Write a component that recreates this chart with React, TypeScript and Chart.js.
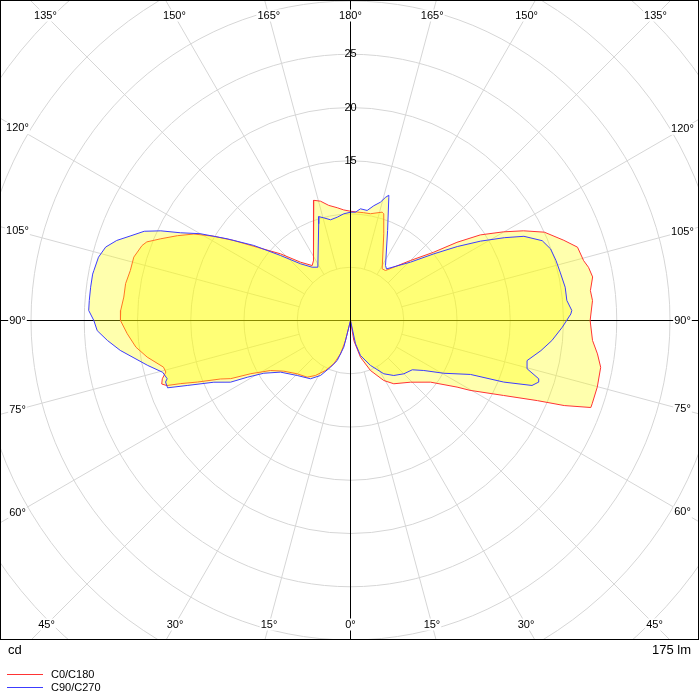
import React, { useEffect, useRef } from "react";
import { Chart, registerables } from "chart.js";

Chart.register(...registerables);

// ---- data (gamma angle in degrees, luminous intensity in cd) ----
const seriesNames = ["C0/C180", "C90/C270"];
const seriesColors = ["#ff3434", "#3c3cff"];
const fillColor = "rgba(255,255,0,0.32)";

// C0 half (right side)
const c0Gamma = [0, 9.4, 15.2, 21.8, 29.0, 34.4, 44.2, 52.4, 58.0, 59.7, 63.9, 66.8, 68.3, 70.1, 71.0, 74.9, 79.4, 82.3, 85.3, 90, 94.7, 97.1, 100.2, 102.6, 104.4, 107.9, 110.6, 114.5, 117.4, 120.1, 123.4, 126.3, 129.4, 135, 145, 148.5, 159.0, 162.7, 163.7, 169.4, 173.0, 176.5, 180];
const c0Cd = [0, 1.9, 3.57, 5.06, 6.44, 7.2, 8.08, 9.49, 11.8, 13.0, 16.0, 19.1, 21.6, 24.0, 24.0, 24.0, 23.9, 23.4, 22.8, 22.5, 22.8, 22.7, 23.1, 22.9, 22.6, 22.4, 21.4, 20.0, 18.3, 16.6, 14.6, 12.4, 10.1, 7.97, 5.73, 5.69, 8.72, 10.5, 10.6, 10.2, 10.2, 10.2, 10.26];
// C180 half (left side)
const c180Gamma = [0, 14.0, 16.7, 21.1, 26.6, 32.5, 37.4, 45, 52.8, 58, 61.9, 64.1, 65.8, 68.1, 69.6, 70.5, 71.4, 72.8, 74.4, 76.0, 79.8, 82.9, 86.6, 90, 92.5, 95.9, 99.3, 102.8, 106.3, 109.8, 111.1, 113.3, 116.1, 118.9, 121.6, 124.4, 128.2, 133.6, 139.4, 145.1, 148.5, 158.9, 163, 165.9, 169.3, 173.3, 176.5, 180];
const c180Cd = [0, 1.94, 3.27, 4.36, 5.25, 6.12, 6.7, 7.08, 7.87, 8.86, 10.6, 12.5, 13.4, 15.5, 17.0, 18.3, 18.7, 18.5, 18.0, 18.1, 19.4, 20.3, 21.0, 21.6, 21.6, 21.4, 21.4, 21.2, 21.2, 20.8, 20.5, 19.4, 18.1, 16.8, 15.1, 13.3, 11.1, 9.08, 7.21, 6.29, 6.6, 9.73, 11.8, 11.55, 11.0, 10.66, 10.4, 10.26];
// C90 half (right side)
const c90Gamma = [0, 12.1, 15.9, 24.0, 32.0, 38.2, 45, 51.4, 55.7, 60.5, 65.8, 68.1, 70.3, 71.9, 72.8, 74.7, 77.2, 81.0, 84.3, 88.2, 91.7, 92.6, 95.3, 98.8, 103.0, 106.3, 109.7, 112.6, 115.9, 118.3, 121.4, 124.7, 128.7, 134.2, 145.1, 147.5, 157.6, 162.7, 163.0, 164.2, 165.8, 168.5, 171.4, 174.9, 177.4, 180];
const c90Cd = [0, 2.24, 3.42, 4.62, 5.9, 6.57, 7.08, 7.42, 8.33, 10.06, 12.36, 15.5, 18.1, 18.6, 18.5, 17.2, 17.0, 18.1, 19.0, 19.9, 20.7, 20.8, 20.4, 20.4, 20.2, 20.1, 19.95, 19.5, 18.1, 16.4, 14.3, 12.2, 10.0, 7.86, 5.91, 6.12, 9.14, 12.1, 12.3, 12.0, 11.46, 11.0, 10.45, 10.53, 10.18, 10.17];
// C270 half (left side)
const c270Gamma = [0, 14.1, 18.4, 23.2, 28.6, 34.5, 44.1, 53.6, 58.7, 61.2, 62.8, 65.7, 68.3, 69.8, 71.6, 72.4, 74.6, 77.5, 82.6, 85.3, 87.7, 90, 92.2, 94.4, 97.3, 100.2, 101.0, 104.1, 106.7, 108.9, 111.1, 113.4, 115.3, 117.3, 120.0, 123.5, 127.8, 132.9, 138.6, 144.3, 148.5, 161.8, 163.0, 165.4, 168.8, 172.7, 176.4, 180];
const c270Cd = [0, 2.58, 3.96, 4.77, 5.88, 6.64, 7.19, 8.17, 9.53, 11.06, 12.67, 14.08, 16.5, 18.3, 18.3, 18.06, 18.3, 19.5, 21.8, 22.9, 23.8, 24.1, 24.6, 24.6, 24.6, 24.6, 24.55, 24.4, 24.0, 23.2, 22.1, 21.1, 19.7, 17.96, 16.3, 13.9, 11.5, 8.97, 7.1, 6.16, 5.87, 9.56, 10.2, 9.96, 9.64, 9.78, 10.04, 10.17];

const ringValues = [5, 10, 15, 20, 25, 30, 35, 40, 45];
const ringLabels = [15, 20, 25];
const angleTicks = [0, 15, 30, 45, 60, 75, 90, 105, 120, 135, 150, 165, 180];
const unitLabel = "cd";
const fluxLabel = "175 lm";

// ---- layout constants ----
const PX_PER_CD = 10.65;
const CENTER_X = 350.5;
const CENTER_Y = 320.5;
const BOX_W = 698;
const BOX_H = 639;
const FONT = '"Liberation Sans", Arial, sans-serif';

const rad = (d: number) => (d * Math.PI) / 180;

function buildCurve(rg: number[], rv: number[], lg: number[], lv: number[]) {
  const pts: { x: number; y: number }[] = [];
  for (let i = 0; i < rg.length; i++) {
    pts.push({ x: rv[i] * Math.sin(rad(rg[i])), y: -rv[i] * Math.cos(rad(rg[i])) });
  }
  for (let i = lg.length - 1; i >= 0; i--) {
    pts.push({ x: -lv[i] * Math.sin(rad(lg[i])), y: -lv[i] * Math.cos(rad(lg[i])) });
  }
  return pts;
}

const polarGrid = {
  id: "polarGrid",
  beforeDatasetsDraw(chart: any) {
    const { ctx } = chart;
    const xs = chart.scales.x;
    const ys = chart.scales.y;
    const cx = xs.getPixelForValue(0);
    const cy = ys.getPixelForValue(0);
    const k = xs.getPixelForValue(1) - cx;
    ctx.save();
    ctx.beginPath();
    ctx.rect(1, 1, BOX_W - 1, BOX_H - 1);
    ctx.clip();
    ctx.strokeStyle = "#d6d6d6";
    ctx.lineWidth = 1;
    for (const r of ringValues) {
      ctx.beginPath();
      ctx.arc(cx, cy, r * k, 0, Math.PI * 2);
      ctx.stroke();
    }
    for (let a = 0; a < 360; a += 15) {
      if (a % 90 === 0) continue;
      const dx = Math.sin(rad(a));
      const dy = Math.cos(rad(a));
      ctx.beginPath();
      ctx.moveTo(cx + dx * 5 * k, cy + dy * 5 * k);
      ctx.lineTo(cx + dx * 80 * k, cy + dy * 80 * k);
      ctx.stroke();
    }
    ctx.strokeStyle = "#000";
    ctx.beginPath();
    ctx.moveTo(0, cy);
    ctx.lineTo(BOX_W + 1, cy);
    ctx.stroke();
    ctx.restore();
  },
  afterDatasetsDraw(chart: any) {
    const { ctx } = chart;
    const xs = chart.scales.x;
    const ys = chart.scales.y;
    const cx = xs.getPixelForValue(0);
    const cy = ys.getPixelForValue(0);
    const k = xs.getPixelForValue(1) - cx;
    ctx.save();
    // vertical axis
    ctx.strokeStyle = "#000";
    ctx.lineWidth = 1;
    ctx.beginPath();
    ctx.moveTo(cx, 0);
    ctx.lineTo(cx, BOX_H + 1);
    ctx.stroke();

    ctx.fillStyle = "#000";
    ctx.font = `11px ${FONT}`;
    ctx.textAlign = "center";
    ctx.textBaseline = "middle";
    for (const v of ringLabels) {
      ctx.fillText(String(v), cx, cy - v * k);
    }

    // angle labels
    const left = 17.5, right = BOX_W - 15.5, top = 15.5, bottom = BOX_H - 14.5;
    for (const g of angleTicks) {
      const sides = g === 0 || g === 180 ? [1] : [1, -1];
      for (const s of sides) {
        const dx = s * Math.sin(rad(g));
        const dy = Math.cos(rad(g));
        let t = Infinity;
        if (Math.abs(dx) > 1e-9) t = Math.min(t, (dx > 0 ? right - cx : cx - left) / Math.abs(dx));
        if (Math.abs(dy) > 1e-9) t = Math.min(t, (dy > 0 ? bottom - cy : cy - top) / Math.abs(dy));
        const px = cx + dx * t;
        const py = cy + dy * t;
        const txt = `${g}°`;
        const w = ctx.measureText(txt).width;
        ctx.fillStyle = "#fff";
        ctx.fillRect(px - w / 2 - 1, py - 6, w + 2, 12);
        ctx.fillStyle = "#000";
        ctx.fillText(txt, px, py);
      }
    }

    // frame
    ctx.strokeStyle = "#000";
    ctx.strokeRect(0.5, 0.5, BOX_W, BOX_H);

    // bottom texts
    ctx.font = `13px ${FONT}`;
    ctx.textBaseline = "alphabetic";
    ctx.textAlign = "left";
    ctx.fillText(unitLabel, 8, 654);
    ctx.textAlign = "right";
    ctx.fillText(fluxLabel, 691, 654);

    // legend
    ctx.font = `11px ${FONT}`;
    ctx.textAlign = "left";
    ctx.textBaseline = "middle";
    const rows = [674.5, 687.5];
    seriesNames.forEach((name, i) => {
      ctx.strokeStyle = seriesColors[i];
      ctx.beginPath();
      ctx.moveTo(7, rows[i]);
      ctx.lineTo(43, rows[i]);
      ctx.stroke();
      ctx.fillStyle = "#000";
      ctx.fillText(name, 51, rows[i]);
    });
    ctx.restore();
  },
};

export default function App() {
  const ref = useRef<HTMLCanvasElement | null>(null);
  useEffect(() => {
    if (!ref.current) return;
    const red = buildCurve(c0Gamma, c0Cd, c180Gamma, c180Cd);
    const blue = buildCurve(c90Gamma, c90Cd, c270Gamma, c270Cd);
    const chart = new Chart(ref.current, {
      type: "scatter",
      data: {
        datasets: [
          {
            label: seriesNames[1],
            data: blue,
            showLine: true,
            borderColor: seriesColors[1],
            backgroundColor: fillColor,
            fill: "shape",
            pointRadius: 0,
            borderWidth: 1,
            tension: 0,
          } as any,
          {
            label: seriesNames[0],
            data: red,
            showLine: true,
            borderColor: seriesColors[0],
            backgroundColor: fillColor,
            fill: "shape",
            pointRadius: 0,
            borderWidth: 1,
            tension: 0,
          } as any,
        ],
      },
      options: {
        animation: false,
        responsive: false,
        events: [],
        layout: { padding: 0 },
        plugins: { legend: { display: false }, tooltip: { enabled: false } },
        scales: {
          x: { type: "linear", display: false, min: -CENTER_X / PX_PER_CD, max: (700 - CENTER_X) / PX_PER_CD },
          y: { type: "linear", display: false, min: -(700 - CENTER_Y) / PX_PER_CD, max: CENTER_Y / PX_PER_CD },
        },
      },
      plugins: [polarGrid],
    });
    return () => chart.destroy();
  }, []);
  return (
    <div style={{ position: "absolute", left: 0, top: 0, width: 700, height: 700, background: "#fff" }}>
      <canvas ref={ref} width={700} height={700} style={{ display: "block" }} />
    </div>
  );
}
